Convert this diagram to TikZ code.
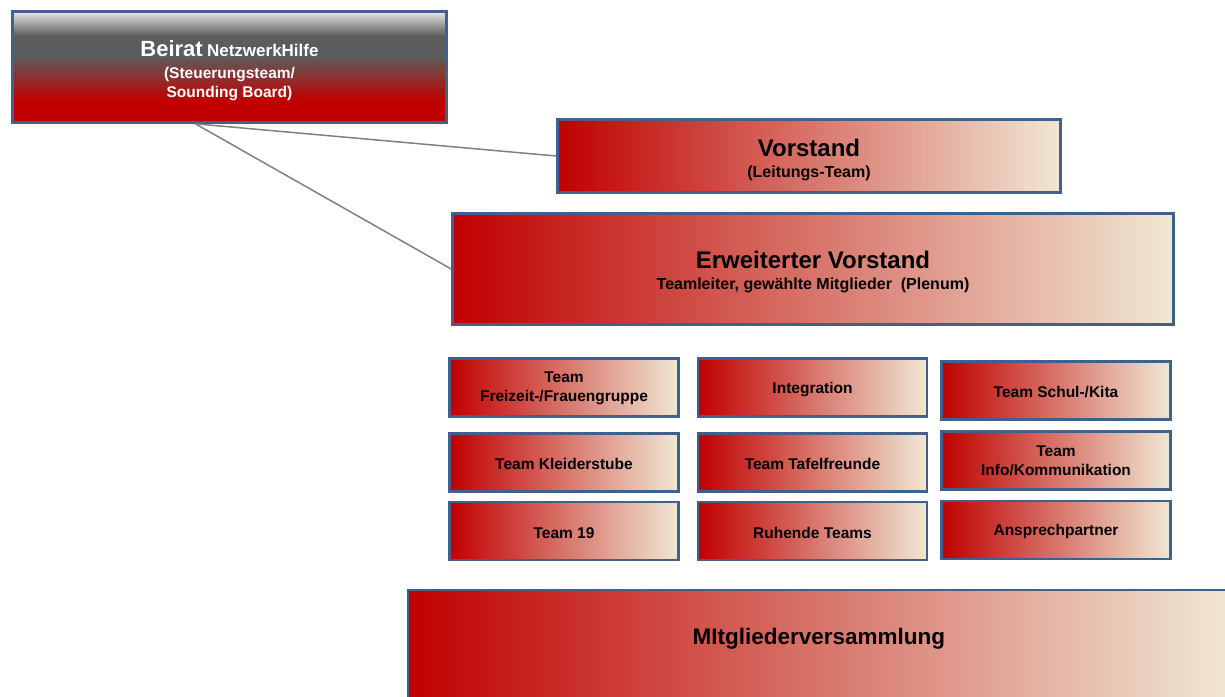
\documentclass[tikz,border=0pt]{standalone}
\usepackage{fontspec}
\setmainfont{Liberation Sans}
\usepackage{tikz}
\usetikzlibrary{positioning}
\definecolor{BoxBlue}{RGB}{65,96,138}
\definecolor{OrgRed}{RGB}{192,0,0}
\definecolor{OrgCream}{RGB}{240,232,212}
\definecolor{BeiratGray}{RGB}{92,92,92}
\definecolor{BeiratLight}{RGB}{232,232,232}
\definecolor{LinkGray}{RGB}{128,128,128}
\pgfdeclareverticalshading{beiratfill}{100bp}{color(0bp)=(OrgRed); color(25bp)=(OrgRed);
  color(35bp)=(OrgRed); color(55bp)=(BeiratGray); color(64bp)=(BeiratGray);
  color(75bp)=(BeiratLight); color(100bp)=(BeiratLight)}
\tikzset{
  orgbox/.style={rectangle, draw=BoxBlue, line width=2.6pt, left color=OrgRed,
    right color=OrgCream, align=center, inner sep=0pt,
    font=\bfseries\fontsize{16}{21}\selectfont},
  teambox/.style={orgbox, minimum width=229pt, minimum height=58pt, drop=15pt,
    font=\bfseries\fontsize{15.5}{19}\selectfont},
  drop/.style={execute at begin node={\rule{0pt}{#1}}},
  link/.style={draw=LinkGray, line width=1.5pt}
}
\newcommand{\bigline}[1]{{\fontsize{24}{26}\selectfont #1}}

\begin{document}
\begin{tikzpicture}[x=1pt,y=-1pt]
  \clip (0,0) rectangle (1225,696);
  % Beirat
  \node[orgbox, shading=beiratfill, shading angle=0, text=white, minimum width=434pt,
    minimum height=111pt, drop=64pt, font=\bfseries\fontsize{15.5}{19}\selectfont]
    (beirat) at (229.5,67)
    {{\fontsize{22}{24}\selectfont Beirat} {\fontsize{17}{20}\selectfont NetzwerkHilfe}\\[3pt]
     (Steuerungsteam/\\Sounding Board)};
  % Leitung
  \node[orgbox, minimum width=503pt, minimum height=73pt, drop=46.5pt] (vorstand) at (809,156)
    {\bigline{Vorstand}\\(Leitungs-Team)};
  \node[orgbox, minimum width=721pt, minimum height=111pt, drop=43.5pt] (erw) at (813,269)
    {\bigline{Erweiterter Vorstand}\\Teamleiter, gewählte Mitglieder~~(Plenum)};
  \draw[link] (beirat.239.6) -- (vorstand.west);
  \draw[link] (beirat.239.6) -- (erw.west);
  % Teams
  \node[teambox, drop=32pt] (freizeit) at (564,387.5) {Team\\Freizeit-/Frauengruppe};
  \node[teambox] (integration) at (812.5,387.5) {Integration};
  \node[teambox] (schulkita) at (1056,390.5) {Team Schul-/Kita};
  \node[teambox] (kleider) at (564,462.5) {Team Kleiderstube};
  \node[teambox] (tafel) at (812.5,462.5) {Team Tafelfreunde};
  \node[teambox, drop=0pt] (info) at (1056,460.5) {Team\\Info/Kommunikation};
  \node[teambox] (team19) at (564,531) {Team 19};
  \node[teambox] (ruhend) at (812.5,531) {Ruhende Teams};
  \node[teambox] (ansprech) at (1056,530) {Ansprechpartner};
  % Mitgliederversammlung
  \node[orgbox, anchor=north west, minimum width=822pt, inner ysep=0pt,
    text height=55pt, text depth=68pt, font=\bfseries\fontsize{22.5}{26}\selectfont]
    (mv) at (406.5,588.5) {MItgliederversammlung};
\end{tikzpicture}
\end{document}
